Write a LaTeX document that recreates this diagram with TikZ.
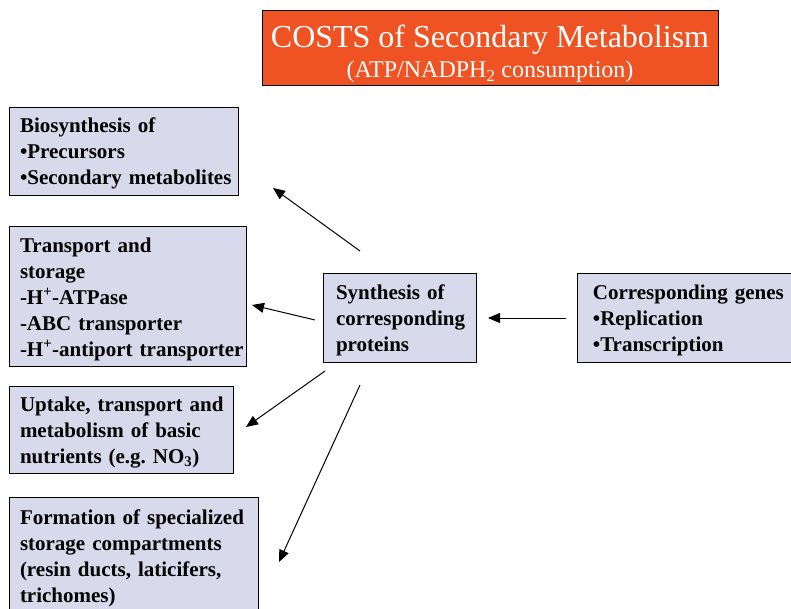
\documentclass[tikz,border=0pt]{standalone}
\usepackage{fontspec}
\setmainfont{LiberationSerif}[Extension=.ttf, UprightFont=*-Regular, BoldFont=*-Bold, ItalicFont=*-Italic, BoldItalicFont=*-BoldItalic]
\usetikzlibrary{positioning, arrows.meta}
\definecolor{lavender}{HTML}{D9D9EC}
\definecolor{titleRed}{HTML}{F05323}
\newcommand{\boxstart}{\rule{0pt}{20.5pt}}
\begin{document}
\begin{tikzpicture}[x=1pt, y=-1pt, every node/.style={align=left}]
    \tikzset{costbox/.style={draw=black, fill=lavender, line width=0.9pt, inner xsep=11pt, font=\bfseries\fontsize{21}{26}\selectfont}, arrow/.style={-{Triangle[length=12pt,width=10pt]}, line width=1pt}}
    \useasboundingbox (0,0) rectangle (791,608);
    \node[draw=black, line width=0.9pt, fill=titleRed, text=white, inner ysep=0pt, minimum width=456pt, minimum height=75pt, align=center, font=\fontsize{24}{30}\selectfont] (title) at (490,47.5) {{\fontsize{32}{30}\selectfont\rule{0pt}{36pt}COSTS of Secondary Metabolism}\\(ATP/NADPH\textsubscript{2} consumption)};
    \node[costbox, text width=207pt, minimum height=88pt] (bio) at (123.5,151) {\boxstart Biosynthesis of\\•Precursors\\\mbox{•Secondary metabolites}};
    \node[costbox, text width=215pt, minimum height=140pt] (trans) at (127.5,296) {\boxstart Transport and\\storage\\-H\textsuperscript{+}-ATPase\\-ABC transporter\\\mbox{-H\textsuperscript{+}-antiport transporter}};
    \node[costbox, text width=202pt, minimum height=87pt] (uptake) at (121,429.5) {\boxstart\mbox{Uptake, transport and}\\metabolism of basic\\nutrients (e.g.\ NO\textsubscript{3})};
    \node[costbox, text width=227pt, minimum height=116pt] (form) at (133.5,555) {\boxstart Formation of specialized\\storage compartments\\(resin ducts, laticifers,\\trichomes)};
    \node[costbox, inner xsep=12.5pt, text width=128pt, minimum height=89pt] (prot) at (400,317.5) {\boxstart Synthesis of\\corresponding\\proteins};
    \node[costbox, inner xsep=15pt, text width=189pt, minimum height=89pt, right=100.5pt of prot] (genes) {\boxstart\mbox{Corresponding genes}\\•Replication\\•Transcription};
    % arrow ends
    \coordinate (bioFrom) at (360,251);   \coordinate (bioTo) at (273,188);
    \coordinate (transFrom) at (315,320); \coordinate (transTo) at (252,305);
    \coordinate (uptFrom) at (325,371);   \coordinate (uptTo) at (246,427);
    \coordinate (formFrom) at (360,385);  \coordinate (formTo) at (279,562);
    \coordinate (genFrom) at (566,318);   \coordinate (genTo) at (488,318);
    \draw[arrow] (bioFrom) -- (bioTo);
    \draw[arrow] (transFrom) -- (transTo);
    \draw[arrow] (uptFrom) -- (uptTo);
    \draw[arrow] (formFrom) -- (formTo);
    \draw[arrow] (genFrom) -- (genTo);
\end{tikzpicture}
\end{document}
